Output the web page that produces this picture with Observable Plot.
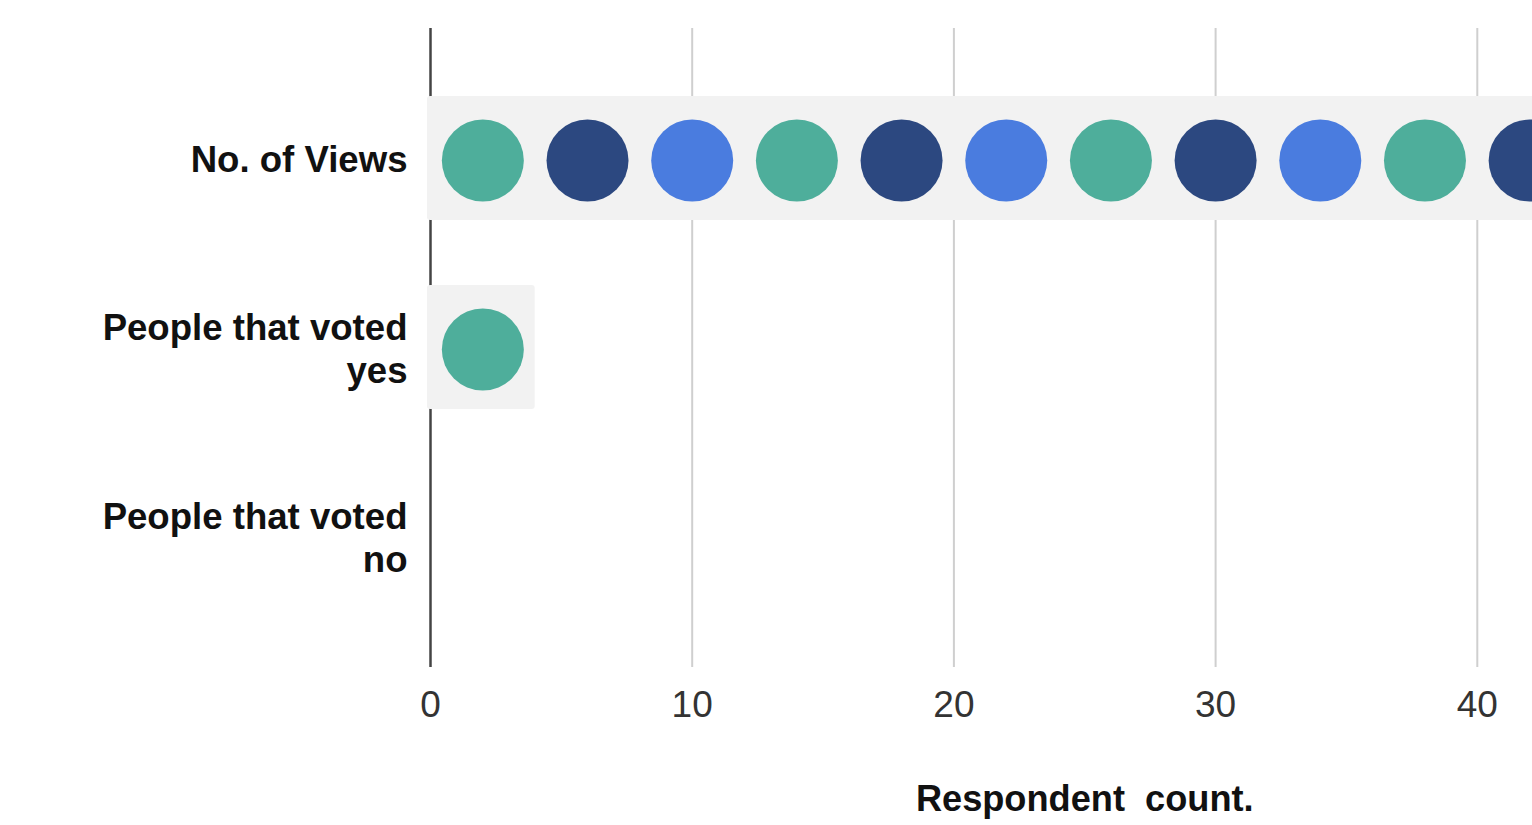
<!DOCTYPE html>
<html>
<head>
<meta charset="utf-8">
<script src="https://cdn.jsdelivr.net/npm/d3@7"></script>
<script src="https://cdn.jsdelivr.net/npm/@observablehq/plot@0.6"></script>
<style>
  html, body { margin: 0; padding: 0; background: #ffffff; overflow: hidden; }
  #chart svg { max-width: none !important; display: block; }
  #chart svg text { white-space: pre; }
</style>
</head>
<body>
<div id="chart"></div>
<script>
// ---- data ----
const categories = ["No. of Views", "People that voted yes", "People that voted no"];
const categoryLabels = ["No. of Views", "People that voted\nyes", "People that voted\nno"];
const values = [48, 4, 0];
const unitPerIcon = 4;
const iconColors = ["#4eae9b", "#2c4880", "#4a7cdf"];
const xTicks = [0, 10, 20, 30, 40];
const xLabel = "Respondent  count.";

// ---- derived tables ----
const rows = categories.map((c, i) => ({category: c, value: values[i]}));
const icons = [];
rows.forEach(r => {
  const n = Math.floor(r.value / unitPerIcon);
  for (let i = 0; i < n; i++) {
    icons.push({category: r.category, x: i * unitPerIcon + unitPerIcon / 2, color: iconColors[i % iconColors.length]});
  }
});
const labelOf = Object.fromEntries(categories.map((c, i) => [c, categoryLabels[i]]));

const chart = Plot.plot({
  width: 1760,
  height: 825,
  marginLeft: 430,
  marginRight: 21.5,
  marginTop: 28,
  marginBottom: 158,
  style: {maxWidth: "none", overflow: "visible", fontFamily: "'Liberation Sans', Arial, sans-serif", background: "#ffffff"},
  x: {domain: [0, 50]},
  y: {domain: categories, paddingInner: 0.343, paddingOuter: 0.3575, align: 0.5},
  color: {type: "identity"},
  marks: [
    Plot.gridX([10, 20, 30, 40, 50], {stroke: "#cfcfcf", strokeOpacity: 1, strokeWidth: 2}),
    Plot.ruleX([0], {stroke: "#444444", strokeWidth: 2.5}),
    Plot.barX(rows.filter(r => r.value > 0), {x1: 0, x2: "value", y: "category", fill: "#f2f2f2", insetLeft: -3, rx: 3}),
    Plot.dot(icons, {x: "x", y: "category", r: 41, fill: "color", dy: 2}),
    Plot.axisY({
      tickSize: 0, tickPadding: 23, fontSize: 36.6, fontWeight: "bold", fill: "#111111",
      lineHeight: 1.18, tickFormat: d => labelOf[d], label: null
    }),
    Plot.axisX(xTicks, {
      tickSize: 0, tickPadding: 23, fontSize: 37, fill: "#333333", label: null
    }),
    Plot.text([xLabel], {
      frameAnchor: "bottom", dy: 143, lineAnchor: "bottom",
      fontSize: 36.2, fontWeight: "bold", fill: "#111111"
    })
  ]
});
document.getElementById("chart").appendChild(chart);
</script>
</body>
</html>
